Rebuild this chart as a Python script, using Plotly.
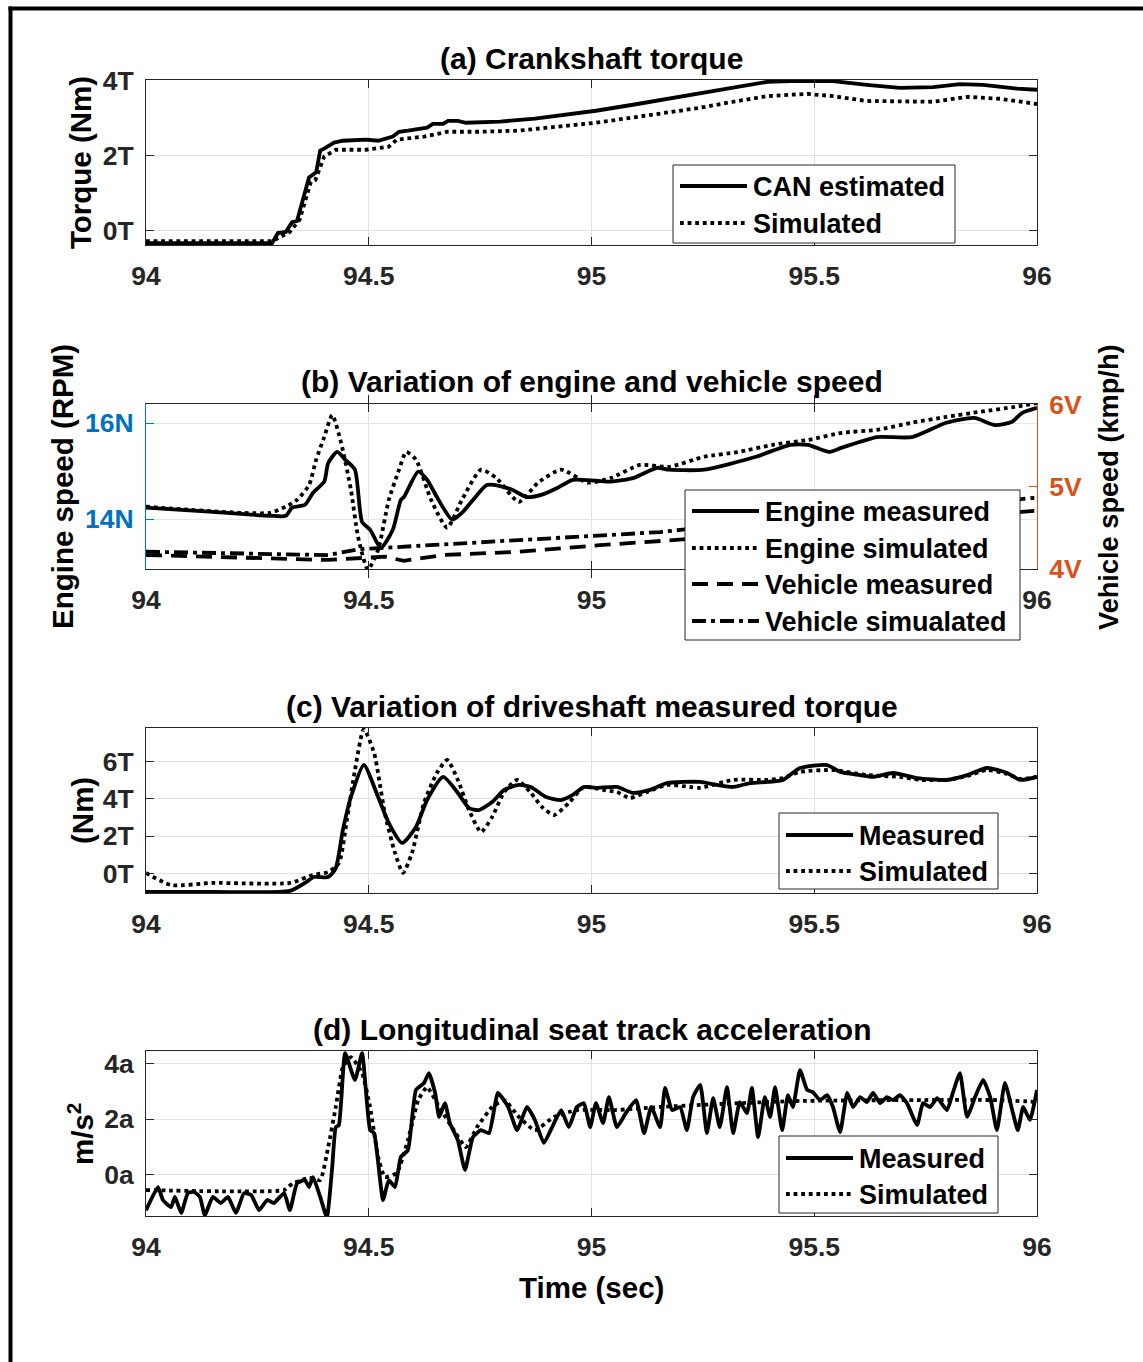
import plotly.graph_objects as go

W, H = 1143, 1362


def px(x):
    return x / W


def py(y):
    return 1 - y / H


# ---------------- data ----------------
x_ticks = [94, 94.5, 95, 95.5, 96]
x_tick_text = ["94", "94.5", "95", "95.5", "96"]
x_tick_text_b = ["94", "94.5", "95", "", "96"]   # 95.5 is hidden behind the legend in (b)

# (a) Crankshaft torque
t_crank_can = [94.000, 94.283, 94.296, 94.314, 94.328, 94.339, 94.366, 94.382, 94.391, 94.400,
               94.422, 94.442, 94.494, 94.521, 94.554, 94.568, 94.588, 94.631, 94.644, 94.667,
               94.678, 94.700, 94.718, 94.795, 94.873, 94.923, 95.010, 95.093, 95.169, 95.244,
               95.318, 95.394, 95.468, 95.542, 95.618, 95.692, 95.767, 95.827, 95.879, 95.917,
               95.955, 96.000]
tq_crank_can = [-0.33, -0.33, -0.06, -0.03, 0.23, 0.26, 1.42, 1.56, 2.14, 2.19,
                2.35, 2.40, 2.43, 2.40, 2.51, 2.64, 2.67, 2.75, 2.85, 2.85,
                2.93, 2.93, 2.88, 2.91, 2.99, 3.07, 3.20, 3.36, 3.52, 3.67,
                3.83, 3.97, 4.00, 3.99, 3.89, 3.81, 3.83, 3.91, 3.89, 3.83,
                3.79, 3.76]
t_crank_sim = [94.000, 94.283, 94.323, 94.345, 94.370, 94.380, 94.400, 94.426, 94.494, 94.545,
               94.563, 94.624, 94.676, 94.752, 94.837, 94.923, 95.010, 95.093, 95.169, 95.244,
               95.318, 95.394, 95.484, 95.542, 95.618, 95.692, 95.767, 95.843, 95.917, 96.000]
tq_crank_sim = [-0.28, -0.28, -0.03, 0.30, 1.30, 1.35, 1.98, 2.16, 2.16, 2.24,
                2.43, 2.51, 2.64, 2.64, 2.67, 2.77, 2.88, 3.02, 3.14, 3.28,
                3.44, 3.59, 3.65, 3.59, 3.46, 3.44, 3.44, 3.57, 3.52, 3.38]

# (b) Engine speed (N units) and vehicle speed (V units)
t_eng_meas = [94.000, 94.150, 94.278, 94.314, 94.328, 94.357, 94.375, 94.400, 94.409, 94.429,
              94.447, 94.469, 94.485, 94.503, 94.527, 94.554, 94.572, 94.579, 94.611, 94.631,
              94.653, 94.687, 94.709, 94.734, 94.765, 94.795, 94.822, 94.855, 94.889, 94.923,
              94.958, 95.010, 95.044, 95.095, 95.147, 95.174, 95.253, 95.369, 95.446, 95.486,
              95.533, 95.562, 95.641, 95.719, 95.796, 95.859, 95.906, 95.944, 95.966, 96.000]
rpm_eng_meas = [14.24, 14.15, 14.07, 14.07, 14.24, 14.30, 14.55, 14.78, 15.17, 15.40,
                15.24, 15.03, 13.94, 13.78, 13.40, 13.78, 14.40, 14.46, 14.99, 14.82,
                14.46, 13.99, 14.13, 14.40, 14.71, 14.69, 14.61, 14.46, 14.51, 14.65,
                14.82, 14.80, 14.78, 14.86, 15.07, 15.03, 15.03, 15.30, 15.55, 15.55,
                15.40, 15.49, 15.71, 15.71, 16.01, 16.11, 15.96, 16.03, 16.21, 16.32]
t_eng_sim = [94.000, 94.278, 94.314, 94.339, 94.366, 94.382, 94.400, 94.418, 94.438, 94.460,
             94.476, 94.498, 94.521, 94.545, 94.568, 94.584, 94.606, 94.640, 94.676, 94.709,
             94.752, 94.786, 94.837, 94.880, 94.932, 94.992, 95.044, 95.109, 95.174, 95.253,
             95.329, 95.407, 95.486, 95.562, 95.641, 95.719, 95.796, 95.874, 95.951, 96.000]
rpm_eng_sim = [14.26, 14.13, 14.26, 14.40, 14.71, 15.24, 15.71, 16.17, 15.59, 14.61,
               13.63, 12.95, 13.36, 14.40, 15.03, 15.40, 15.24, 14.40, 13.82, 14.40,
               15.03, 14.86, 14.36, 14.76, 15.03, 14.76, 14.86, 15.13, 15.09, 15.30,
               15.40, 15.55, 15.65, 15.80, 15.86, 16.01, 16.13, 16.24, 16.34, 16.42]
t_veh_meas = [94.000, 94.409, 94.536, 94.579, 94.667, 94.837, 95.019, 95.154, 95.205, 95.603, 96.000]
v_veh_meas = [4.17, 4.11, 4.15, 4.10, 4.17, 4.21, 4.29, 4.34, 4.36, 4.54, 4.71]
t_veh_sim = [94.000, 94.409, 94.476, 94.667, 94.837, 95.154, 95.205, 95.603, 96.000]
v_veh_sim = [4.21, 4.17, 4.24, 4.30, 4.35, 4.45, 4.48, 4.66, 4.87]

# (c) Driveshaft torque
t_ds_meas = [94.000, 94.150, 94.323, 94.357, 94.377, 94.409, 94.426, 94.442, 94.460, 94.489,
             94.521, 94.545, 94.575, 94.606, 94.631, 94.667, 94.700, 94.725, 94.747, 94.777,
             94.804, 94.837, 94.864, 94.898, 94.932, 94.958, 94.983, 95.010, 95.057, 95.093,
             95.131, 95.169, 95.205, 95.244, 95.282, 95.318, 95.356, 95.394, 95.430, 95.468,
             95.529, 95.558, 95.603, 95.632, 95.677, 95.731, 95.798, 95.843, 95.888, 95.933,
             95.962, 96.000]
tq_ds_meas = [-1.00, -1.00, -0.95, -0.52, -0.20, -0.20, 0.28, 2.33, 4.10, 5.82,
              4.10, 2.70, 1.63, 2.49, 3.94, 5.18, 4.32, 3.51, 3.40, 3.83,
              4.48, 4.75, 4.64, 4.10, 3.94, 4.21, 4.64, 4.59, 4.64, 4.32,
              4.48, 4.85, 4.91, 4.91, 4.75, 4.64, 4.85, 4.91, 5.02, 5.66,
              5.82, 5.45, 5.28, 5.18, 5.39, 5.12, 5.02, 5.28, 5.66, 5.39,
              5.02, 5.18]
t_ds_sim = [94.000, 94.056, 94.150, 94.323, 94.375, 94.409, 94.433, 94.451, 94.469, 94.489,
            94.512, 94.536, 94.559, 94.577, 94.597, 94.624, 94.653, 94.676, 94.700, 94.725,
            94.752, 94.777, 94.804, 94.833, 94.864, 94.889, 94.916, 94.949, 94.983, 95.026,
            95.057, 95.086, 95.125, 95.169, 95.221, 95.244, 95.318, 95.394, 95.430, 95.468,
            95.542, 95.618, 95.692, 95.737, 95.798, 95.843, 95.888, 95.933, 95.962, 96.000]
tq_ds_sim = [0.02, -0.63, -0.52, -0.52, -0.09, 0.07, 0.55, 2.87, 5.55, 7.75,
             6.47, 3.24, 1.09, 0.02, 1.09, 3.78, 5.39, 6.09, 5.02, 3.40,
             2.22, 3.03, 4.37, 5.02, 4.32, 3.56, 3.13, 3.78, 4.64, 4.48,
             4.37, 4.05, 4.37, 4.75, 4.64, 4.59, 5.02, 5.02, 5.12, 5.45,
             5.55, 5.28, 5.18, 5.02, 5.02, 5.23, 5.55, 5.34, 5.07, 5.18]

# (d) Longitudinal seat track acceleration
t_acc_meas = [94.000, 94.027, 94.038, 94.056, 94.065, 94.079, 94.094, 94.108, 94.121, 94.132,
              94.150, 94.168, 94.184, 94.202, 94.220, 94.236, 94.254, 94.272, 94.287, 94.310,
              94.323, 94.339, 94.357, 94.366, 94.375, 94.391, 94.406, 94.418, 94.426, 94.433,
              94.447, 94.469, 94.485, 94.503, 94.512, 94.532, 94.545, 94.559, 94.572, 94.588,
              94.606, 94.624, 94.635, 94.649, 94.658, 94.671, 94.682, 94.700, 94.716, 94.734,
              94.752, 94.770, 94.790, 94.813, 94.833, 94.855, 94.873, 94.893, 94.916, 94.932,
              94.949, 94.967, 94.983, 94.997, 95.010, 95.026, 95.039, 95.057, 95.077, 95.100,
              95.118, 95.134, 95.154, 95.165, 95.181, 95.199, 95.214, 95.228, 95.244, 95.259,
              95.273, 95.288, 95.304, 95.318, 95.333, 95.349, 95.360, 95.374, 95.389, 95.401,
              95.412, 95.428, 95.441, 95.452, 95.468, 95.484, 95.497, 95.513, 95.529, 95.542,
              95.558, 95.574, 95.587, 95.603, 95.618, 95.632, 95.648, 95.663, 95.677, 95.692,
              95.708, 95.731, 95.744, 95.760, 95.776, 95.798, 95.811, 95.827, 95.843, 95.861,
              95.879, 95.895, 95.910, 95.928, 95.946, 95.957, 95.969, 95.984, 96.000]
acc_meas = [-1.30, -0.46, -0.93, -1.19, -0.82, -1.40, -0.68, -0.64, -0.82, -1.48,
            -0.82, -1.04, -0.82, -1.40, -0.68, -0.75, -1.30, -0.93, -1.04, -0.68,
            -1.30, -0.32, -0.21, -0.46, -0.10, -0.82, -1.55, 0.26, 1.71, 1.79,
            4.39, 3.42, 4.39, 1.60, 1.49, -0.93, -0.21, -0.46, 0.63, 0.88,
            3.06, 3.31, 3.67, 2.95, 2.08, 2.58, 1.86, 1.24, 0.16, 1.35,
            1.60, 1.49, 2.95, 2.44, 1.60, 2.44, 1.97, 1.14, 1.86, 2.33,
            1.71, 2.44, 2.58, 1.71, 2.58, 1.86, 2.80, 1.71, 2.22, 2.69,
            1.49, 2.44, 1.71, 3.13, 2.33, 2.44, 1.60, 2.80, 3.24, 1.49,
            2.76, 1.71, 3.16, 1.49, 2.62, 2.22, 3.13, 1.35, 2.80, 2.08,
            3.16, 1.60, 2.87, 2.44, 3.78, 3.06, 2.98, 2.69, 2.87, 2.44,
            1.53, 2.95, 2.44, 2.80, 2.62, 2.95, 2.58, 2.80, 2.69, 2.87,
            2.58, 1.79, 2.58, 2.44, 2.76, 2.33, 2.95, 3.67, 2.08, 2.80,
            3.42, 2.80, 1.60, 3.31, 2.22, 1.60, 2.44, 1.97, 3.06]
t_acc_sim = [94.000, 94.310, 94.330, 94.366, 94.391, 94.409, 94.426, 94.442, 94.460, 94.485,
             94.503, 94.521, 94.536, 94.563, 94.588, 94.611, 94.631, 94.658, 94.691, 94.718,
             94.743, 94.777, 94.804, 94.837, 94.873, 94.916, 94.967, 95.053, 95.154, 95.288,
             95.468, 95.692, 95.917, 96.000]
acc_sim = [-0.57, -0.57, -0.32, -0.13, -0.21, 0.99, 2.44, 3.89, 4.25, 3.67,
           2.44, 0.63, -0.10, 0.05, 1.24, 2.69, 3.16, 2.44, 1.60, 0.99,
           1.71, 2.44, 2.69, 2.08, 1.60, 2.08, 2.33, 2.33, 2.44, 2.55,
           2.66, 2.69, 2.69, 2.62]

for a, b in [(t_crank_can, tq_crank_can), (t_crank_sim, tq_crank_sim), (t_eng_meas, rpm_eng_meas),
             (t_eng_sim, rpm_eng_sim), (t_veh_meas, v_veh_meas), (t_veh_sim, v_veh_sim),
             (t_ds_meas, tq_ds_meas), (t_ds_sim, tq_ds_sim), (t_acc_meas, acc_meas), (t_acc_sim, acc_sim)]:
    assert len(a) == len(b), (len(a), len(b))

# ---------------- styling ----------------
FONT = "Liberation Sans, Arial, sans-serif"
AX = "#262626"
GRID = "#e2e2e2"
BLUE = "#0072BD"
ORANGE = "#D95319"
LW = 3.8
DOT = "dot"
DASH = "16px,9px"
DASHDOT = "14px,5px,4px,5px"

fig = go.Figure()


def line(t, v, xa, ya, dash="solid", shape="linear", smooth=0.6):
    fig.add_trace(go.Scatter(x=t, y=v, mode="lines", xaxis=xa, yaxis=ya, showlegend=False,
                             line=dict(color="black", width=LW, dash=dash, shape=shape,
                                       smoothing=smooth if shape == "spline" else None),
                             hoverinfo="skip"))


line(t_crank_can, tq_crank_can, "x", "y")
line(t_crank_sim, tq_crank_sim, "x", "y", DOT)
line(t_veh_meas, v_veh_meas, "x2", "y3", DASH)
line(t_veh_sim, v_veh_sim, "x2", "y3", DASHDOT)
line(t_eng_meas, rpm_eng_meas, "x2", "y2", "solid", "spline")
line(t_eng_sim, rpm_eng_sim, "x2", "y2", DOT, "spline")
line(t_ds_meas, tq_ds_meas, "x3", "y4", "solid", "spline")
line(t_ds_sim, tq_ds_sim, "x3", "y4", DOT, "spline")
line(t_acc_meas, acc_meas, "x4", "y5", "solid", "spline", 0.45)
line(t_acc_sim, acc_sim, "x4", "y5", DOT, "spline", 0.45)

tickfont = dict(family=FONT, size=26.5, color=AX, weight="bold")


def xaxis(anchor, texts=x_tick_text):
    return dict(anchor=anchor, domain=[px(146), px(1037)], range=[94, 96],
                tickmode="array", tickvals=x_ticks, ticktext=texts,
                ticks="inside", ticklen=8, tickwidth=1, tickcolor=AX,
                showline=True, linecolor=AX, linewidth=1, mirror="allticks",
                showgrid=True, gridcolor=GRID, gridwidth=1, zeroline=False,
                tickfont=tickfont, ticklabelstandoff=7, automargin=False)


def yaxis(anchor, top, bottom, rng, vals, texts, color=AX, grid=GRID, mirror="allticks", **kw):
    d = dict(anchor=anchor, domain=[py(bottom), py(top)], range=rng,
             tickmode="array", tickvals=vals, ticktext=texts,
             ticks="inside", ticklen=8, tickwidth=1, tickcolor=color,
             showline=True, linecolor=color, linewidth=1, mirror=mirror,
             showgrid=grid is not None, gridcolor=grid, gridwidth=1, zeroline=False,
             tickfont=dict(family=FONT, size=26.5, color=color, weight="bold"),
             ticklabelstandoff=6, automargin=False)
    d.update(kw)
    return d


fig.update_layout(
    width=W, height=H, autosize=False,
    margin=dict(l=0, r=0, t=0, b=0, pad=0, autoexpand=False),
    paper_bgcolor="white", plot_bgcolor="white",
    xaxis=xaxis("y"),
    yaxis=yaxis("x", 80, 245, [-0.38, 4.02], [0, 2, 4], ["0T", "2T", "4T"]),
    xaxis2=xaxis("y2", x_tick_text_b),
    yaxis2=yaxis("x2", 404, 569, [12.96, 16.40], [14, 16], ["14N", "16N"],
                 color=BLUE, grid="#dbeaf5", mirror=False),
    yaxis3=yaxis("x2", 404, 569, [4, 6.01], [4, 5, 6], ["4V", "5V", "6V"],
                 color=ORANGE, grid=None, mirror=False, overlaying="y2", side="right"),
    xaxis3=xaxis("y4"),
    yaxis4=yaxis("x3", 728, 893, [-1.06, 7.81], [0, 2, 4, 6], ["0T", "2T", "4T", "6T"]),
    xaxis4=xaxis("y5"),
    yaxis5=yaxis("x4", 1051, 1216, [-1.51, 4.47], [0, 2, 4], ["0a", "2a", "4a"]),
)

shapes = []
annotations = []

titlefont = dict(family=FONT, size=30, color="black", weight="bold")
labelfont = dict(family=FONT, size=29.5, color="black", weight="bold")
rlabelfont = dict(family=FONT, size=27.2, color="black", weight="bold")
legfont = dict(family=FONT, size=27, color="black", weight="bold")


def text(s, x, y, font, angle=0, xanchor="center"):
    annotations.append(dict(text=s, x=px(x), y=py(y), xref="paper", yref="paper",
                            xanchor=xanchor, yanchor="middle", showarrow=False,
                            textangle=angle, font=font))


text("(a) Crankshaft torque", 591.5, 58, titlefont)
text("(b) Variation of engine and vehicle speed", 591.5, 381, titlefont)
text("(c) Variation of driveshaft measured torque", 591.5, 706, titlefont)
text("(d) Longitudinal seat track acceleration", 591.5, 1029, titlefont)

text("Torque (Nm)", 80, 163, labelfont, -90)
text("Engine speed (RPM)", 62, 487, labelfont, -90)
text("Vehicle speed (kmp/h)", 1108, 487, rlabelfont, -90)
text("(Nm)", 82, 811, labelfont, -90)
text("m/s<sup>2</sup>", 80, 1134, labelfont, -90)
text("Time (sec)", 591.5, 1287, labelfont)


def legend_box(x0, y0, x1, y1, rows):
    shapes.append(dict(type="rect", xref="paper", yref="paper",
                       x0=px(x0), x1=px(x1), y0=py(y1), y1=py(y0),
                       line=dict(color=AX, width=1), fillcolor="white", layer="above"))
    for yy, dash, label in rows:
        shapes.append(dict(type="line", xref="paper", yref="paper",
                           x0=px(x0 + 7), x1=px(x0 + 74), y0=py(yy), y1=py(yy),
                           line=dict(color="black", width=LW, dash=dash), layer="above"))
        text(label, x0 + 78, yy + 1, legfont, 0, "left")


legend_box(673, 165, 955, 243, [(186, "solid", "CAN estimated"), (223, DOT, "Simulated")])
legend_box(685, 490, 1020, 640, [(511, "solid", "Engine measured"), (548, DOT, "Engine simulated"),
                                 (584, DASH, "Vehicle measured"), (621, DASHDOT, "Vehicle simualated")])
legend_box(779, 813, 998, 889, [(835, "solid", "Measured"), (871, DOT, "Simulated")])
legend_box(779, 1136, 998, 1213, [(1158, "solid", "Measured"), (1194, DOT, "Simulated")])

# figure frame (top and left edges)
shapes.append(dict(type="line", xref="paper", yref="paper", x0=px(8.5), x1=1.0,
                   y0=py(8.5), y1=py(8.5), line=dict(color="black", width=4), layer="above"))
shapes.append(dict(type="line", xref="paper", yref="paper", x0=px(10.5), x1=px(10.5),
                   y0=py(6.5), y1=0.0, line=dict(color="black", width=4), layer="above"))

fig.update_layout(shapes=shapes, annotations=annotations)

fig.write_html("out.html")
